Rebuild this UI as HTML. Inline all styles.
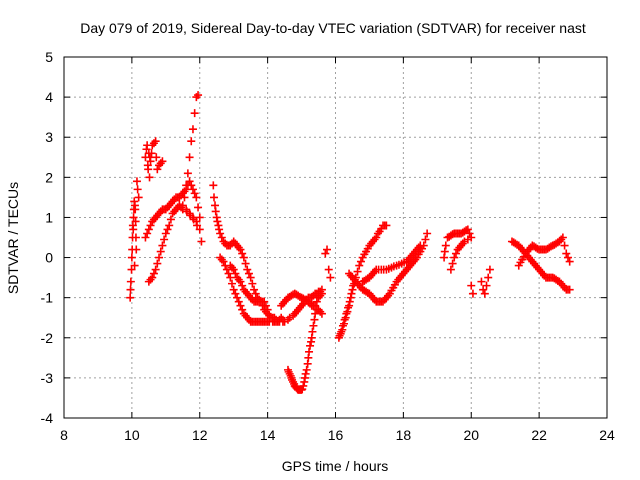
<!DOCTYPE html>
<html><head><meta charset="utf-8"><style>
body{margin:0;background:#fff}
svg{display:block;font-family:"Liberation Sans",sans-serif}
</style></head><body>
<svg id="chart" width="640" height="480" xmlns="http://www.w3.org/2000/svg">
<rect width="640" height="480" fill="#fff"/>
<text x="333" y="33" font-size="14" text-anchor="middle">Day 079 of 2019, Sidereal Day-to-day VTEC variation (SDTVAR) for receiver nast</text>
<text x="335" y="471" font-size="14" text-anchor="middle">GPS time / hours</text>
<text transform="translate(18,238) rotate(-90)" font-size="14" text-anchor="middle">SDTVAR / TECUs</text>
<g id="grid"></g><g id="ticks"></g><g id="marks"></g>
<rect x="64" y="57" width="543" height="361" fill="none" stroke="#000"/>
</svg>
<script>
const xTicks=[8,10,12,14,16,18,20,22,24];
const yTicks=[-4,-3,-2,-1,0,1,2,3,4,5];
const hours=[9.95,9.97,10,10.02,10.05,10.07,10.1,10.12,10.15,10.2,10.03,10.08,
10.4,10.45,10.5,10.55,10.6,10.7,10.75,10.8,10.9,10.48,10.52,
10.4,10.5,10.6,10.7,10.8,10.9,11,11.1,11.2,11.3,11.4,11.5,11.6,11.7,11.8,11.9,12,
10.5,10.6,10.7,10.8,10.9,11,11.1,11.2,11.3,11.4,11.5,
11.5,11.55,11.6,11.65,11.7,11.75,11.8,11.85,11.9,11.95,
11.6,11.7,11.8,11.9,12,12.05,
12.4,12.45,12.5,12.55,12.6,12.7,12.8,12.9,13,13.1,13.2,13.3,13.4,13.5,13.6,13.7,13.8,13.9,14,14.1,14.2,14.35,14.5,14.65,14.8,14.9,15,15.1,15.2,15.3,15.4,15.5,15.6,
12.6,12.7,12.8,12.9,13,13.1,13.2,13.3,13.4,13.5,13.6,13.7,13.8,13.9,14,14.15,14.3,14.4,14.5,
12.9,13,13.1,13.2,13.3,13.4,13.5,13.6,13.7,13.8,13.9,14,
14.4,14.5,14.6,14.7,14.8,14.9,15,15.1,15.2,15.3,15.4,15.5,15.6,
14.6,14.65,14.7,14.75,14.8,14.85,14.9,14.95,15,15.05,15.1,15.15,15.2,15.25,15.3,15.35,15.4,15.5,15.6,
15.7,15.75,15.8,15.85,
16.1,16.15,16.2,16.25,16.3,16.35,16.4,16.45,16.5,16.55,16.6,16.7,16.8,16.9,17,17.1,17.2,17.3,17.4,17.5,
16.4,16.5,16.6,16.7,16.8,16.9,17,17.1,17.2,17.3,17.4,17.5,17.6,17.7,17.8,17.9,18,18.1,18.2,18.3,18.4,18.5,18.6,18.7,
16.8,16.9,17,17.1,17.2,17.35,17.5,17.65,17.8,17.95,18.1,18.2,18.3,18.4,18.5,
19.2,19.25,19.3,19.4,19.5,19.6,19.7,19.8,19.9,20,19.4,19.5,19.6,19.7,19.8,20,20.05,
20.3,20.35,20.4,20.45,20.5,20.55,
21.2,21.3,21.4,21.5,21.6,21.7,21.8,21.9,22,22.1,22.2,22.3,22.4,22.5,22.6,22.7,22.8,22.9,
21.4,21.5,21.6,21.7,21.8,21.9,22,22.1,22.2,22.3,22.4,22.5,22.6,22.7,22.75,22.8,22.85,22.9,
9.96,9.99,10.01,10.04,10.06,10.09,10.11,10.13,10.17,10.43,10.47,10.53,10.58,10.65,10.72,10.85,
10.45,10.55,10.65,10.75,10.85,10.95,11.05,11.15,11.25,11.35,11.45,11.55,11.65,11.75,11.85,11.95,
10.55,10.65,10.75,10.85,10.95,11.05,11.15,11.25,11.35,11.45,11.62,11.72,11.82,11.92,
12.42,12.47,12.52,12.57,12.65,12.75,12.85,12.95,13.05,13.15,13.25,13.35,13.45,13.55,13.65,13.75,13.85,13.95,14.05,14.15,14.25,14.45,14.6,14.75,14.85,14.95,15.05,15.15,15.25,15.35,15.45,15.55,
12.65,12.75,12.85,12.95,13.05,13.15,13.25,13.35,13.45,13.55,13.65,13.75,13.85,13.95,14.05,14.2,14.25,14.35,14.45,
12.95,13.05,13.15,13.25,13.35,13.45,13.55,13.65,13.75,13.85,13.95,
14.45,14.55,14.65,14.75,14.85,14.95,15.05,15.15,15.25,15.35,15.45,15.55,
14.62,14.68,14.72,14.78,14.82,14.88,14.92,14.98,15.02,15.08,15.12,15.18,15.22,15.28,15.32,15.38,15.45,15.55,
16.12,16.17,16.22,16.27,16.32,16.37,16.42,16.47,16.52,16.57,16.65,16.75,16.85,16.95,17.05,17.15,17.25,17.35,17.45,
16.45,16.55,16.65,16.75,16.85,16.95,17.05,17.15,17.25,17.35,17.45,17.55,17.65,17.75,17.85,17.95,18.05,18.15,18.25,18.35,18.45,18.55,18.65,
16.85,16.95,17.05,17.15,17.27,17.42,17.57,17.72,17.87,18.02,18.15,18.25,18.35,18.45,
19.22,19.35,19.45,19.55,19.65,19.75,19.85,19.95,19.45,19.55,19.65,19.75,19.9,
21.25,21.35,21.45,21.55,21.65,21.75,21.85,21.95,22.05,22.15,22.25,22.35,22.45,22.55,22.65,22.75,22.85,
21.45,21.55,21.65,21.75,21.85,21.95,22.05,22.15,22.25,22.35,22.45,22.55,22.65];
const values=[-1,-0.6,0,0.5,1,1.4,1.2,0.5,1.9,1.5,0.8,-0.2,
2.5,2.8,2.6,2.4,2.8,2.9,2.2,2.3,2.4,2.2,2.0,
0.5,0.7,0.9,1.0,1.1,1.2,1.2,1.3,1.4,1.5,1.5,1.6,1.7,1.9,1.7,1.5,1.0,
-0.6,-0.5,-0.3,0,0.3,0.6,0.8,1.1,1.2,1.3,1.2,
1.3,1.5,1.8,2.1,2.5,2.9,3.2,3.6,4.0,4.05,
1.2,1.1,1.0,0.9,0.7,0.4,
1.8,1.3,1.0,0.8,0.6,0.4,0.3,0.3,0.4,0.3,0.2,0,-0.3,-0.5,-0.8,-1.0,-1.1,-1.3,-1.4,-1.5,-1.5,-1.6,-1.6,-1.5,-1.4,-1.3,-1.2,-1.1,-1.0,-1.0,-0.9,-0.85,-0.8,
0,-0.1,-0.3,-0.5,-0.8,-1.0,-1.2,-1.4,-1.5,-1.6,-1.6,-1.6,-1.6,-1.6,-1.6,-1.6,-1.6,-1.5,-1.6,
-0.2,-0.3,-0.5,-0.6,-0.8,-0.9,-1.0,-1.1,-1.1,-1.1,-1.1,-1.3,
-1.2,-1.1,-1.0,-0.95,-0.9,-0.95,-1.0,-1.05,-1.1,-1.2,-1.2,-1.0,-0.9,
-2.8,-2.9,-3.0,-3.1,-3.2,-3.25,-3.3,-3.3,-3.3,-3.2,-3.0,-2.8,-2.5,-2.2,-2.0,-1.7,-1.4,-1.3,-1.4,
0.1,0.2,-0.3,-0.5,
-2,-1.9,-1.8,-1.65,-1.5,-1.35,-1.2,-1.0,-0.8,-0.65,-0.5,-0.2,0,0.15,0.3,0.4,0.5,0.65,0.8,0.8,
-0.4,-0.5,-0.6,-0.7,-0.8,-0.85,-0.9,-1.0,-1.1,-1.1,-1.1,-1.0,-0.9,-0.75,-0.6,-0.5,-0.4,-0.3,-0.2,-0.1,0,0.15,0.3,0.6,
-0.6,-0.55,-0.5,-0.4,-0.3,-0.3,-0.3,-0.25,-0.2,-0.15,-0.1,0,0.1,0.2,0.3,
0,0.3,0.5,0.55,0.6,0.6,0.6,0.65,0.7,0.5,-0.3,0,0.2,0.3,0.4,-0.7,-0.9,
-0.6,-0.8,-0.9,-0.7,-0.5,-0.3,
0.4,0.35,0.3,0.2,0.1,0,-0.1,-0.2,-0.3,-0.4,-0.5,-0.5,-0.5,-0.55,-0.6,-0.7,-0.8,-0.8,
-0.2,-0.05,0.1,0.2,0.3,0.25,0.2,0.2,0.2,0.25,0.3,0.35,0.4,0.5,0.3,0.1,0,-0.1,
-0.8,-0.3,0.2,0.7,1.2,1.3,0.9,0.2,1.7,2.7,2.3,2.5,2.6,2.85,2.5,2.35,
0.6,0.8,0.95,1.05,1.15,1.2,1.25,1.35,1.45,1.5,1.55,1.65,1.8,1.8,1.6,1.25,
-0.55,-0.4,-0.15,0.15,0.45,0.7,0.95,1.15,1.25,1.25,1.15,1.05,0.95,0.8,
1.5,1.15,0.9,0.7,0.5,0.35,0.3,0.35,0.35,0.25,0.1,-0.15,-0.4,-0.65,-0.9,-1.05,-1.2,-1.35,-1.45,-1.5,-1.55,-1.6,-1.55,-1.45,-1.35,-1.25,-1.15,-1.05,-1.0,-0.95,-0.9,-0.85,
-0.05,-0.2,-0.4,-0.65,-0.9,-1.1,-1.3,-1.45,-1.55,-1.6,-1.6,-1.6,-1.6,-1.6,-1.6,-1.6,-1.6,-1.55,-1.55,
-0.25,-0.4,-0.55,-0.7,-0.85,-0.95,-1.05,-1.1,-1.1,-1.1,-1.2,
-1.15,-1.05,-0.98,-0.92,-0.92,-0.98,-1.02,-1.08,-1.15,-1.2,-1.1,-0.95,
-2.85,-2.95,-3.05,-3.15,-3.22,-3.28,-3.3,-3.3,-3.28,-3.1,-2.9,-2.65,-2.35,-2.1,-1.85,-1.55,-1.3,-1.35,
-1.95,-1.85,-1.7,-1.55,-1.4,-1.25,-1.1,-0.9,-0.7,-0.55,-0.35,-0.1,0.08,0.22,0.35,0.45,0.6,0.72,0.8,
-0.45,-0.55,-0.65,-0.75,-0.82,-0.88,-0.95,-1.05,-1.1,-1.1,-1.05,-0.95,-0.82,-0.68,-0.55,-0.45,-0.35,-0.25,-0.15,-0.05,0.08,0.22,0.45,
-0.58,-0.52,-0.45,-0.35,-0.3,-0.3,-0.28,-0.22,-0.18,-0.12,-0.05,0.05,0.15,0.25,
0.15,0.52,0.58,0.6,0.6,0.62,0.68,0.6,-0.15,0.1,0.25,0.35,0.45,
0.38,0.32,0.25,0.15,0.05,-0.05,-0.15,-0.25,-0.35,-0.45,-0.5,-0.5,-0.52,-0.58,-0.65,-0.75,-0.8,
-0.12,0.02,0.15,0.25,0.28,0.22,0.2,0.2,0.22,0.28,0.32,0.38,0.45];
const NS="http://www.w3.org/2000/svg";
const L=64,R=607,T=57,B=418;
const X=v=>L+(v-8)/16*(R-L);
const Y=v=>B-(v+4)/9*(B-T);
function mk(tag,attrs,parent){const e=document.createElementNS(NS,tag);for(const k in attrs)e.setAttribute(k,attrs[k]);parent.appendChild(e);return e;}
const grid=document.getElementById('grid'),ticks=document.getElementById('ticks'),marks=document.getElementById('marks');
xTicks.forEach(t=>{const x=X(t);
 if(t>8&&t<24){const g=mk('line',{x1:x,x2:x,y1:T,y2:B,stroke:'#a0a0a0','stroke-dasharray':'2,3','stroke-width':1},grid);
 
 }
 mk('line',{x1:x,x2:x,y1:B,y2:B-6,stroke:'#000'},ticks);
 mk('line',{x1:x,x2:x,y1:T,y2:T+6,stroke:'#000'},ticks);
 const lb=mk('text',{x:x,y:B+22,'font-size':14,'text-anchor':'middle'},ticks);lb.textContent=t;
 
 
});
yTicks.forEach(t=>{const y=Y(t);
 if(t>-4&&t<5){const g=mk('line',{x1:L,x2:R,y1:y,y2:y,stroke:'#a0a0a0','stroke-dasharray':'2,3','stroke-width':1},grid);
 
 }
 mk('line',{x1:L,x2:L+6,y1:y,y2:y,stroke:'#000'},ticks);
 mk('line',{x1:R,x2:R-6,y1:y,y2:y,stroke:'#000'},ticks);
 const lb=mk('text',{x:L-11,y:y+5,'font-size':14,'text-anchor':'end'},ticks);lb.textContent=t;
 
 
});
let d='';
for(let i=0;i<hours.length;i++){const x=X(hours[i]),y=Y(values[i]);d+=`M${x-4},${y}h8M${x},${y-4}v8`;}
const p=mk('path',{d:d,stroke:'#ff0000','stroke-width':1.6,fill:'none'},marks);


</script>
</body></html>
